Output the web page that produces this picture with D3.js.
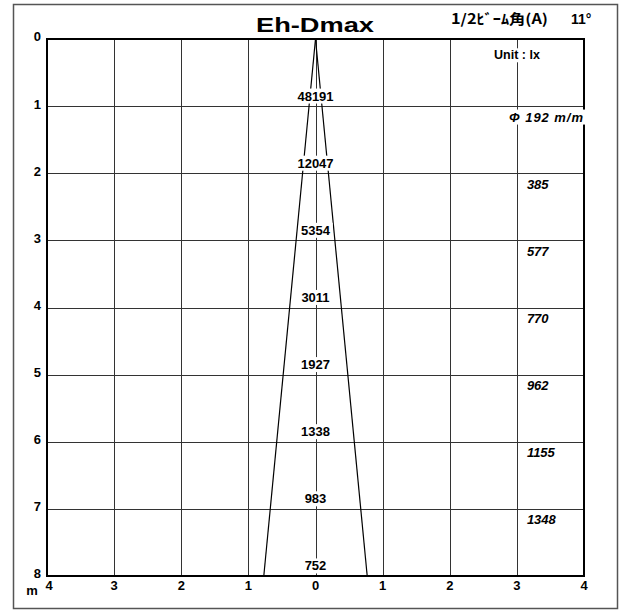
<!DOCTYPE html>
<html><head><meta charset="utf-8">
<script src="https://cdn.jsdelivr.net/npm/d3@7"></script>
<style>body{margin:0;background:#fff}svg{display:block}</style>
</head><body>
<script>
const depths = [1,2,3,4,5,6,7,8];
const illuminance = [48191,12047,5354,3011,1927,1338,983,752];
const diamDepths = [1,2,3,4,5,6,7];
const diameters = [192,385,577,770,962,1155,1348];
const beamAngle = 11;
const xTicks = [-4,-3,-2,-1,0,1,2,3,4];
const xTickLabels = ["4","3","2","1","0","1","2","3","4"];
const yTicks = [0,1,2,3,4,5,6,7,8];

const W=626,H=610;
const svg=d3.select("body").append("svg").attr("width",W).attr("height",H);
const L=47,R=584,T=39,B=576;
const x=d3.scaleLinear().domain([-4,4]).range([L,R]);
const y=d3.scaleLinear().domain([0,8]).range([T,B]);
const font="'Liberation Sans', Arial, sans-serif";

svg.append("rect").attr("x",13.5).attr("y",4.5).attr("width",604).attr("height",604)
  .attr("fill","none").attr("stroke","#555").attr("stroke-width",1.5);

const g=svg.append("g");
g.selectAll(".vg").data(xTicks.slice(1,-1)).join("line")
 .attr("x1",d=>Math.round(x(d))+0.5).attr("x2",d=>Math.round(x(d))+0.5).attr("y1",T).attr("y2",B)
 .attr("stroke","#333").attr("stroke-width",1);
g.selectAll(".hg").data(yTicks.slice(1,-1)).join("line")
 .attr("y1",d=>Math.round(y(d))+0.5).attr("y2",d=>Math.round(y(d))+0.5).attr("x1",L).attr("x2",R)
 .attr("stroke","#333").attr("stroke-width",1);

const r8 = 8*Math.tan(beamAngle/2*Math.PI/180);
const line=d3.line().x(d=>x(d[0])).y(d=>y(d[1]));
[[[0,0],[-r8,8]],[[0,0],[r8,8]]].forEach(p=>{
  g.append("path").attr("d",line(p)).attr("fill","none").attr("stroke","#000").attr("stroke-width",1.2);
});

g.append("rect").attr("x",L).attr("y",T).attr("width",R-L).attr("height",B-T)
 .attr("fill","none").attr("stroke","#000").attr("stroke-width",2);

function boxedText(parent, setup){
  const s=parent.append("g");
  const rect=s.append("rect").attr("fill","#fff");
  const t=s.append("text");
  setup(t);
  const bb=t.node().getBBox();
  rect.attr("x",bb.x-2).attr("y",bb.y).attr("width",bb.width+4).attr("height",bb.height);
  return s;
}

depths.forEach((d,i)=>{
  boxedText(g,t=>t.attr("x",x(0)).attr("y",y(d)-9).attr("text-anchor","middle")
    .attr("dominant-baseline","middle").attr("font-family",font).attr("font-weight","bold")
    .attr("font-size",13).text(illuminance[i]));
});

diamDepths.forEach((d,i)=>{
  boxedText(g,t=>{
    t.attr("y",y(d)+12).attr("dominant-baseline","middle")
     .attr("font-family",font).attr("font-weight","bold").attr("font-style","italic").attr("font-size",13);
    if(i===0) t.attr("x",R-1).attr("text-anchor","end").attr("textLength",74).attr("lengthAdjust","spacing").text("Φ "+diameters[i]+" m/m");
    else t.attr("x",x(3)+10).attr("text-anchor","start").text(diameters[i]);
  });
});

boxedText(g,t=>t.attr("x",517).attr("y",56).attr("text-anchor","middle").attr("dominant-baseline","middle")
 .attr("font-family",font).attr("font-weight","bold").attr("font-size",12.5).text("Unit : lx"));

svg.selectAll(".yl").data(yTicks).join("text").attr("x",41).attr("y",d=>y(d)-1).attr("text-anchor","end")
 .attr("dominant-baseline","middle").attr("font-family",font).attr("font-weight","bold").attr("font-size",13).text(d=>d);
svg.selectAll(".xl").data(xTicks).join("text").attr("x",d=>x(d)+(d===-4?2:0)).attr("y",B+11).attr("text-anchor","middle")
 .attr("dominant-baseline","middle").attr("font-family",font).attr("font-weight","bold").attr("font-size",13).text((d,i)=>xTickLabels[i]);
svg.append("text").attr("x",32).attr("y",592).attr("text-anchor","middle").attr("dominant-baseline","middle")
 .attr("font-family",font).attr("font-weight","bold").attr("font-size",13).text("m");

svg.append("text").attr("x",256).attr("y",32).attr("font-family",font).attr("font-weight","bold")
 .attr("font-size",20).attr("textLength",118).attr("lengthAdjust","spacingAndGlyphs").text("Eh-Dmax");
svg.append("text").attr("x",451).attr("y",24).attr("font-family","'Noto Sans CJK JP', sans-serif")
 .attr("font-weight","bold").attr("font-size",14).attr("textLength",97).attr("lengthAdjust","spacingAndGlyphs").text("1/2ﾋﾞｰﾑ角(A)");
svg.append("text").attr("x",571).attr("y",24).attr("font-family",font)
 .attr("font-weight","bold").attr("font-size",14).text("11°");
</script>
</body></html>
